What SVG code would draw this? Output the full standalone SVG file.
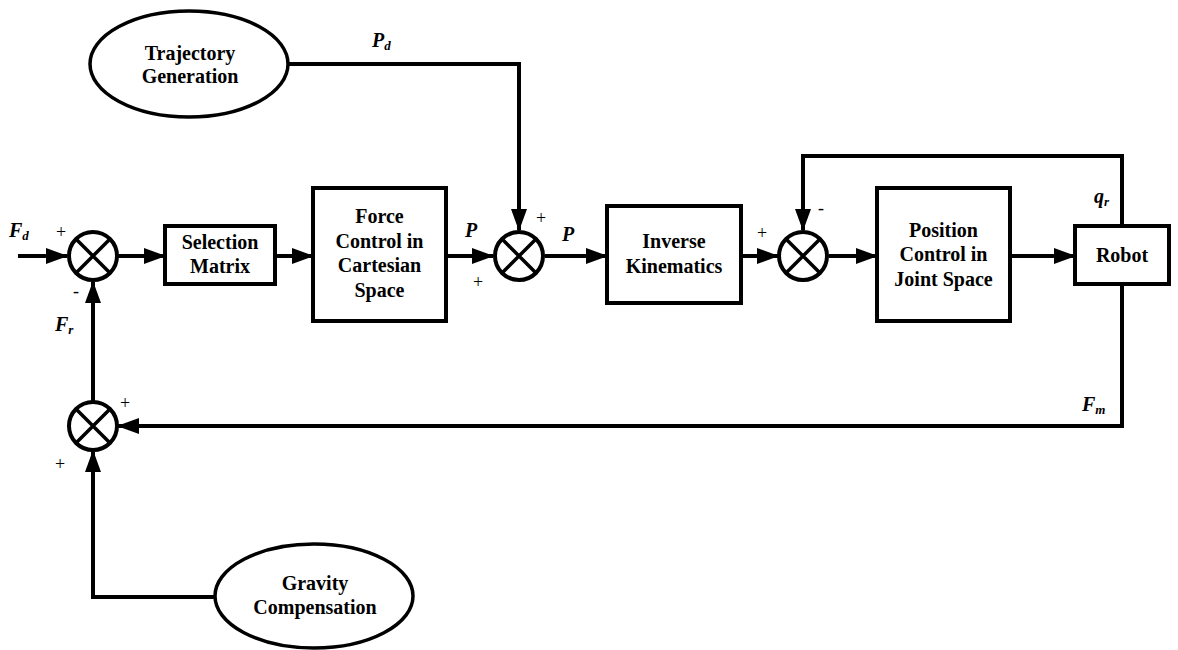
<svg xmlns="http://www.w3.org/2000/svg" width="1178" height="650" viewBox="0 0 1178 650">
  <defs>
    <marker id="arrow" markerWidth="22" markerHeight="16" refX="21" refY="8" orient="auto" markerUnits="userSpaceOnUse">
      <path d="M0,0 L22,8 L0,16 Z" fill="#000"/>
    </marker>
  </defs>
  <style>
    .box { fill: #fff; stroke: #000; stroke-width: 4; }
    .oval { fill: #fff; stroke: #000; stroke-width: 3.5; }
    .sum { fill: #fff; stroke: #000; stroke-width: 4; }
    .cross { stroke: #000; stroke-width: 3.5; }
    .wire { fill: none; stroke: #000; stroke-width: 4; }
    text { font-family: 'Liberation Serif', 'DejaVu Serif', serif; fill: #000; }
    .lbl { font-weight: bold; font-size: 20px; text-anchor: middle; }
    .sig { font-weight: bold; font-style: italic; font-size: 20px; }
    .sub { font-size: 13px; }
    .sign { font-size: 18px; text-anchor: middle; }
  </style>

  <!-- connectors -->
  <g id="connectors">
    <path class="wire" d="M18,256 L67,256" marker-end="url(#arrow)"/>
    <path class="wire" d="M118,256 L165,256" marker-end="url(#arrow)"/>
    <path class="wire" d="M275,256 L313,256" marker-end="url(#arrow)"/>
    <path class="wire" d="M446,256 L493,256" marker-end="url(#arrow)"/>
    <path class="wire" d="M288,64 L519,64 L519,230" marker-end="url(#arrow)"/>
    <path class="wire" d="M545,256 L607,256" marker-end="url(#arrow)"/>
    <path class="wire" d="M741,256 L778,256" marker-end="url(#arrow)"/>
    <path class="wire" d="M829,256 L877,256" marker-end="url(#arrow)"/>
    <path class="wire" d="M1010,256 L1075,256" marker-end="url(#arrow)"/>
    <path class="wire" d="M1122,225 L1122,156 L803,156 L803,230" marker-end="url(#arrow)"/>
    <path class="wire" d="M1122,284 L1122,426 L118,426" marker-end="url(#arrow)"/>
    <path class="wire" d="M93,402 L93,282" marker-end="url(#arrow)"/>
    <path class="wire" d="M215,597 L93,597 L93,451" marker-end="url(#arrow)"/>
  </g>

  <!-- trajectory generation -->
  <g id="trajectory">
    <ellipse class="oval" cx="189" cy="64" rx="99" ry="53"/>
    <text class="lbl" x="190" y="60">Trajectory</text>
    <text class="lbl" x="190" y="83">Generation</text>
  </g>

  <!-- gravity compensation -->
  <g id="gravity">
    <ellipse class="oval" cx="314" cy="596" rx="99" ry="52"/>
    <text class="lbl" x="315" y="590">Gravity</text>
    <text class="lbl" x="315" y="614">Compensation</text>
  </g>

  <!-- summing junctions -->
  <g id="sum-force">
    <circle class="sum" cx="93" cy="256" r="24"/>
    <path class="cross" d="M76,239 L110,273 M110,239 L76,273"/>
  </g>
  <g id="sum-gravity">
    <circle class="sum" cx="93" cy="426" r="24"/>
    <path class="cross" d="M76,409 L110,443 M110,409 L76,443"/>
  </g>
  <g id="sum-position">
    <circle class="sum" cx="519" cy="256" r="24"/>
    <path class="cross" d="M502,239 L536,273 M536,239 L502,273"/>
  </g>
  <g id="sum-joint">
    <circle class="sum" cx="803" cy="256" r="24"/>
    <path class="cross" d="M786,239 L820,273 M820,239 L786,273"/>
  </g>

  <!-- blocks -->
  <g id="selection">
    <rect class="box" x="165" y="226" width="110" height="58"/>
    <text class="lbl" x="220" y="249">Selection</text>
    <text class="lbl" x="220" y="273">Matrix</text>
  </g>
  <g id="force-control">
    <rect class="box" x="313" y="188" width="133" height="133"/>
    <text class="lbl" x="379.500" y="223">Force</text>
    <text class="lbl" x="379.500" y="248">Control in</text>
    <text class="lbl" x="379.500" y="272">Cartesian</text>
    <text class="lbl" x="379.500" y="297">Space</text>
  </g>
  <g id="inverse-kinematics">
    <rect class="box" x="607" y="206" width="134" height="97"/>
    <text class="lbl" x="674" y="248">Inverse</text>
    <text class="lbl" x="674" y="273">Kinematics</text>
  </g>
  <g id="position-control">
    <rect class="box" x="877" y="188" width="133" height="133"/>
    <text class="lbl" x="943.500" y="237">Position</text>
    <text class="lbl" x="943.500" y="261">Control in</text>
    <text class="lbl" x="943.500" y="286">Joint Space</text>
  </g>
  <g id="robot">
    <rect class="box" x="1075" y="226" width="94" height="58"/>
    <text class="lbl" x="1122" y="262">Robot</text>
  </g>

  <!-- signal labels -->
  <g id="labels">
    <text class="sig" x="9" y="237">F<tspan class="sub" dy="3">d</tspan></text>
    <text class="sig" x="55" y="331">F<tspan class="sub" dy="3">r</tspan></text>
    <text class="sig" x="372" y="47">P<tspan class="sub" dy="3">d</tspan></text>
    <text class="sig" x="465" y="237">P</text>
    <text class="sig" x="562" y="241">P</text>
    <text class="sig" x="1094" y="203">q<tspan class="sub" dy="3">r</tspan></text>
    <text class="sig" x="1082" y="411">F<tspan class="sub" dy="3">m</tspan></text>

    <text class="sign" x="61" y="238">+</text>
    <text class="sign" x="76" y="297">-</text>
    <text class="sign" x="125" y="409">+</text>
    <text class="sign" x="60" y="470">+</text>
    <text class="sign" x="541" y="224">+</text>
    <text class="sign" x="478" y="288">+</text>
    <text class="sign" x="762" y="239">+</text>
    <text class="sign" x="821" y="214">-</text>
  </g>
</svg>
